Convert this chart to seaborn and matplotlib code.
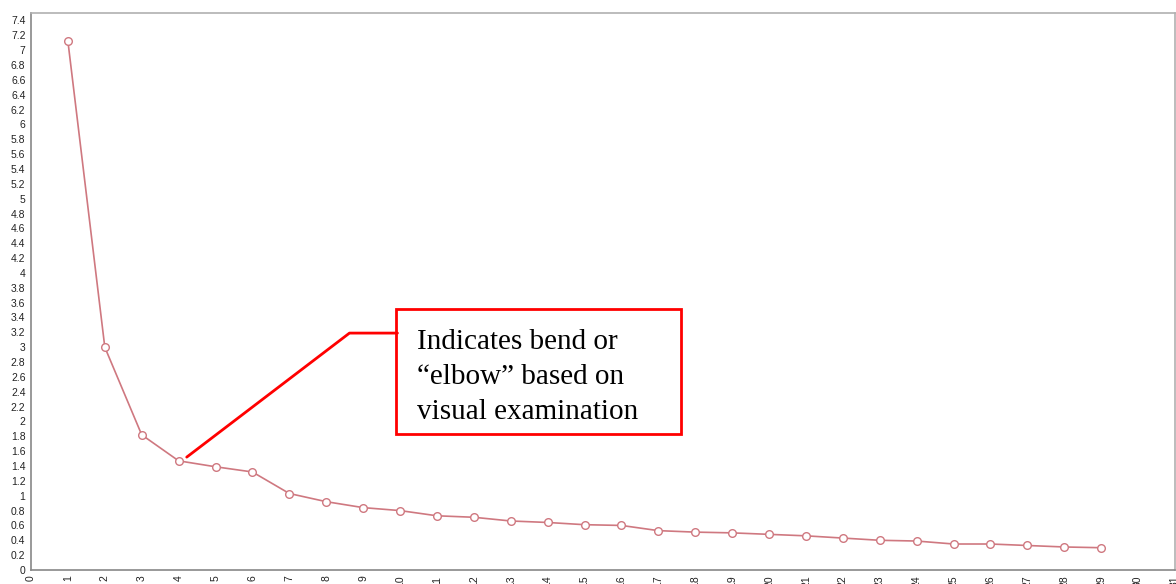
import matplotlib
matplotlib.use("Agg")
import matplotlib.pyplot as plt
import seaborn as sns
import pandas as pd
import numpy as np
from matplotlib.patches import Rectangle

components = list(range(1, 30))
eigenvalues = [7.12, 3.00, 1.82, 1.47, 1.39, 1.32, 1.03, 0.92, 0.84, 0.80,
               0.73, 0.71, 0.66, 0.64, 0.61, 0.60, 0.53, 0.51, 0.50, 0.48,
               0.46, 0.43, 0.40, 0.39, 0.35, 0.35, 0.33, 0.31, 0.30]
x_ticks = list(range(0, 32))
y_ticks = [round(v * 0.2, 1) for v in range(0, 38)]
note_text = "Indicates bend or\n\u201celbow\u201d based on\nvisual examination"

sns.set_style("white")
plt.rcParams['font.family'] = ['Liberation Sans', 'DejaVu Sans']

df = pd.DataFrame({"component": components, "eigenvalue": eigenvalues})

fig = plt.figure(figsize=(11.76, 5.84), dpi=100)
ax = fig.add_axes([31/1176, 14/584, 1144/1176, 557/584])

line_color = "#cf7880"
sns.lineplot(data=df, x="component", y="eigenvalue", ax=ax, color=line_color,
             linewidth=1.2, marker="o", markersize=5.5, markerfacecolor="white",
             markeredgecolor=line_color, markeredgewidth=1.0)

ax.set_xlim(0, 31)
ax.set_ylim(0, 7.5)
ax.set_xticks(x_ticks)
ax.set_xticklabels([str(t) for t in x_ticks], rotation=90, fontsize=7.5, color="#222222")
ax.set_yticks(y_ticks)
ax.set_yticklabels([("%g" % t) for t in y_ticks], fontsize=7.5, color="#222222")
ax.tick_params(axis="both", length=3, width=0.8, color="#888888", pad=1, direction="out")
ax.set_xlabel("")
ax.set_ylabel("")
ax.grid(False)
for side in ["left", "bottom"]:
    ax.spines[side].set_color("#888888")
    ax.spines[side].set_linewidth(1.2)
for side in ["top", "right"]:
    ax.spines[side].set_color("#b0b0b0")
    ax.spines[side].set_linewidth(1.2)

# annotation
ax.plot([4.22, 8.63, 9.93], [1.52, 3.19, 3.19], color="red", linewidth=2, clip_on=False)
ax.add_patch(Rectangle((9.9, 1.83), 17.61 - 9.9, 3.51 - 1.83, fill=False,
                       edgecolor="red", linewidth=2))
ax.text(10.45, 3.25, note_text, fontsize=21, family=["Liberation Serif", "DejaVu Serif"],
        va="top", ha="left", linespacing=1.45, color="black")

fig.savefig("out.png", dpi=100)
